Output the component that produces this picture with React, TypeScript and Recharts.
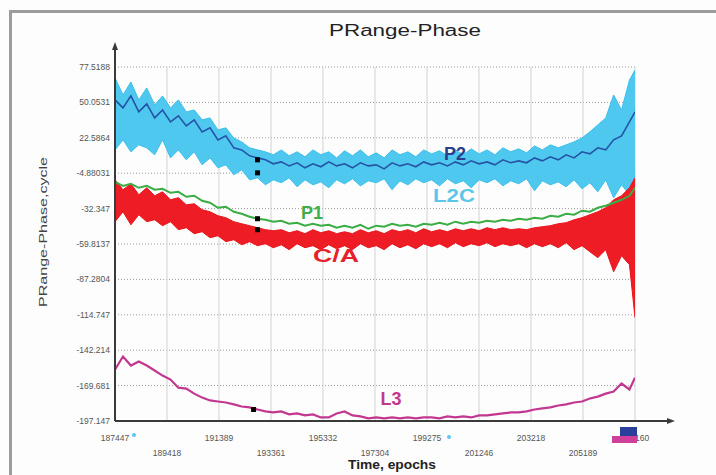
import { ComposedChart, Area, Line, Scatter, XAxis, YAxis, CartesianGrid } from "recharts";

// sample epochs (every 300 epochs + last one)
const epochs = [
  187450, 187750, 188050, 188350, 188650, 188950, 189250, 189550, 189850, 190150,
  190450, 190750, 191050, 191350, 191650, 191950, 192250, 192550, 192850, 193150,
  193450, 193750, 194050, 194350, 194650, 194950, 195250, 195550, 195850, 196150,
  196450, 196750, 197050, 197350, 197650, 197950, 198250, 198550, 198850, 199150,
  199450, 199750, 200050, 200350, 200650, 200950, 201250, 201550, 201850, 202150,
  202450, 202750, 203050, 203350, 203650, 203950, 204250, 204550, 204850, 205150,
  205450, 205750, 206050, 206350, 206650, 206950, 207160,
];

const p2 = [
  52.0, 45.8, 55.1, 42.7, 48.9, 38.0, 44.2, 34.9, 39.6, 31.8, 36.5, 27.2, 30.3, 21.0, 24.1, 14.8, 13.2, 8.6, 7.0, 5.5, 2.4,
  3.9, 0.8, 3.2, -0.7, 2.4, 0.1, 3.9, 0.8, 2.4, -0.7,
  3.2, 0.8, 1.6, -1.5, 3.2, 0.8, 2.4, 0.1, 3.9, 1.6,
  3.2, 0.8, 3.9, 1.6, 4.7, 2.4, 3.9, 1.6, 5.5, 3.2,
  4.7, 3.2, 7.0, 4.7, 7.8, 5.5, 9.4, 7.0, 11.7, 10.1,
  14.8, 13.2, 21.0, 24.1, 34.9, 42.7,
];

const l2cTop = [
  69.0, 55.8, 65.9, 52.0, 61.3, 48.1, 55.1, 45.8, 52.0, 42.7, 44.2, 36.5, 38.0, 28.7, 30.3, 22.5, 19.4, 14.8, 13.2, 11.7, 9.4,
  13.2, 8.6, 11.7, 7.8, 13.2, 9.4, 11.7, 7.0, 12.5, 8.6,
  13.2, 7.8, 10.9, 7.0, 13.2, 9.4, 11.7, 7.8, 13.2, 10.1,
  12.5, 8.6, 13.2, 9.4, 14.0, 10.1, 13.2, 9.4, 14.8, 11.7,
  14.0, 10.9, 16.3, 13.2, 17.1, 14.8, 17.1, 19.4, 22.5, 27.2,
  32.6, 38.0, 55.8, 44.2, 67.4, 75.2,
];

const l2cBottom = [
  13.2, 21.0, 11.7, 17.1, 14.8, 9.4, 21.0, 7.0, 13.2, 5.5, 11.7, 1.6, 7.0, -0.7, 1.6, -6.1, -2.3, -10.0, -8.5, -13.9, -10.0,
  -12.3, -8.5, -15.4, -10.0, -13.9, -11.6, -16.2, -10.0, -13.1, -9.2,
  -14.7, -10.8, -12.3, -9.2, -17.7, -10.8, -13.9, -9.2, -12.3, -10.0,
  -14.7, -9.2, -13.1, -10.8, -16.2, -10.0, -12.3, -9.2, -14.7, -10.8,
  -13.1, -9.2, -18.5, -10.8, -13.9, -11.6, -15.4, -10.0, -17.0, -12.3,
  -19.3, -10.0, -23.9, -13.9, -21.6, -6.1,
];

const p1 = [
  -11.6, -14.7, -13.1, -16.2, -14.7, -17.7, -17.0, -20.1, -19.3, -23.2, -22.4, -26.3, -27.8, -31.7, -30.9, -34.8, -36.3, -38.7, -40.2, -41.0, -42.5,
  -41.8, -44.1, -43.3, -45.6, -44.1, -45.6, -44.9, -47.2, -45.6, -47.2,
  -44.9, -48.0, -45.6, -46.4, -44.1, -45.6, -44.9, -46.4, -44.1, -44.9,
  -43.3, -44.9, -42.5, -44.1, -42.5, -43.3, -41.8, -42.5, -41.0, -41.8,
  -40.2, -41.0, -39.4, -40.2, -37.9, -38.7, -36.3, -37.1, -34.0, -34.8,
  -31.7, -30.1, -27.8, -25.5, -22.4, -16.2,
];

const caTop = [
  -10.0, -17.7, -13.1, -21.6, -16.2, -22.4, -19.3, -25.5, -23.9, -29.4, -28.6, -33.2, -34.8, -37.9, -39.4, -42.5, -44.1, -45.6, -47.2, -48.7, -49.5,
  -48.7, -51.1, -49.5, -51.8, -48.7, -51.1, -49.5, -51.8, -50.3, -51.8,
  -48.7, -51.1, -49.5, -51.8, -48.7, -50.3, -48.7, -51.1, -48.0, -50.3,
  -48.7, -50.3, -48.0, -49.5, -48.0, -49.5, -47.2, -48.7, -47.2, -48.7,
  -48.0, -48.7, -47.2, -46.4, -45.6, -44.1, -43.3, -41.0, -39.4, -37.1,
  -34.8, -31.7, -25.5, -22.4, -16.2, -8.5,
];

const caBottom = [
  -42.5, -34.8, -44.9, -37.1, -42.5, -41.0, -45.6, -42.5, -48.7, -47.2, -51.8, -50.3, -54.9, -53.4, -58.0, -56.5, -60.4, -58.0, -61.1, -59.6, -62.7,
  -60.4, -64.2, -59.6, -62.7, -61.1, -64.2, -60.4, -63.5, -61.1, -64.2,
  -59.6, -62.7, -61.1, -64.2, -59.6, -62.7, -60.4, -63.5, -59.6, -61.9,
  -59.6, -62.7, -58.8, -61.9, -59.6, -61.1, -58.8, -61.9, -59.6, -61.1,
  -59.6, -62.7, -59.6, -61.9, -59.6, -62.7, -58.8, -64.2, -61.1, -65.8,
  -70.4, -64.2, -81.3, -68.9, -75.9, -116.9,
];

const l3 = [
  -157.2, -147.1, -154.1, -151.0, -154.1, -158.0, -161.9, -165.0, -171.3, -172.0, -175.9, -179.0, -181.2, -182.0, -182.8, -184.3, -185.9, -186.6, -188.2, -189.7, -190.5,
  -189.7, -192.0, -191.3, -192.8, -192.0, -194.4, -194.4, -191.3, -189.7, -192.8,
  -193.6, -195.1, -194.4, -195.1, -194.4, -195.1, -194.4, -195.1, -194.4, -194.4,
  -195.1, -193.6, -194.4, -193.6, -194.4, -192.8, -192.8, -192.0, -191.3, -190.5,
  -190.5, -189.7, -188.2, -187.4, -186.6, -185.1, -184.3, -182.8, -182.0, -179.7,
  -178.2, -175.9, -174.3, -168.1, -172.7, -163.5,
];

// black cursor marks
const markerEpochs = [192850, 192850, 192850, 192850, 192700];
const markerValues = [5.5, -4.6, -40.2, -48.7, -188.2];

const xTicks = [187447, 189418, 191389, 193361, 195332, 197304, 199275, 201246, 203218, 205189, 207160];
const yTicks = [77.5188, 50.0521, 22.5855, -4.8812, -32.3478, -59.8145, -87.2811, -114.748, -142.214, -169.681, -197.147];
const yTickLabels = ["77.5188", "50.0531", "22.5864", "-4.88031", "-32.347", "-59.8137", "-87.2804", "-114.747", "-142.214", "-169.681", "-197.147"];

const rows = epochs.map((epoch, i) => ({
  epoch,
  p2: p2[i],
  l2c: [l2cBottom[i], l2cTop[i]],
  p1: p1[i],
  ca: [caBottom[i], caTop[i]],
  l3: l3[i],
}));

const markers = markerEpochs.map((epoch, i) => ({ epoch, value: markerValues[i] }));

const FONT = '"Liberation Sans", Arial, sans-serif';

function XTick({ x, y, payload }: any) {
  const idx = xTicks.indexOf(payload.value);
  const dy = idx % 2 === 0 ? 20 : 35;
  return (
    <text x={x} y={y + dy} textAnchor="middle" fontSize={8.5} fill="#555" fontFamily={FONT}>
      {payload.value}
    </text>
  );
}

function Square({ cx, cy }: any) {
  return <rect x={cx - 2.5} y={cy - 2.5} width={5} height={5} fill="#000" />;
}

export default function App() {
  return (
    <div style={{ position: "absolute", left: 0, top: 0, width: 716, height: 475, background: "#fdfdfd", overflow: "hidden", fontFamily: FONT }}>
      {/* outer frame */}
      <div style={{ position: "absolute", left: 9, top: 10, width: 740, height: 500, border: "3px solid #9c9c9c" }} />

      <div style={{ position: "absolute", left: 0, top: 0 }}>
        <ComposedChart width={716} height={475} data={rows} margin={{ top: 67, right: 81, bottom: 14, left: 55 }}>
          <CartesianGrid horizontal={true} vertical={false} stroke="#9a9a9a" strokeDasharray="1 2" />
          <CartesianGrid horizontal={false} vertical={true} stroke="#d2d2d2" />
          <XAxis
            dataKey="epoch"
            type="number"
            domain={[187447, 207160]}
            ticks={xTicks}
            interval={0}
            tick={<XTick />}
            tickLine={false}
            axisLine={false}
            tickSize={0}
            tickMargin={0}
            height={40}
            allowDataOverflow
          />
          <YAxis
            type="number"
            domain={[-197.147, 77.5188]}
            ticks={yTicks}
            interval={0}
            tickFormatter={(v: number) => yTickLabels[yTicks.indexOf(v)] ?? String(v)}
            tick={{ fontSize: 8.5, fill: "#555", fontFamily: FONT }}
            tickLine={false}
            axisLine={false}
            tickSize={0}
            tickMargin={5}
            width={60}
            allowDataOverflow
          />
          <Area type="linear" dataKey="l2c" stroke="#3cbfea" strokeWidth={1} fill="#4fc8ef" fillOpacity={1} isAnimationActive={false} />
          <Line type="linear" dataKey="p2" stroke="#2553a6" strokeWidth={1.6} dot={false} isAnimationActive={false} />
          <Area type="linear" dataKey="ca" stroke="#e8141c" strokeWidth={1} fill="#ee1c24" fillOpacity={1} isAnimationActive={false} />
          <Line type="linear" dataKey="p1" stroke="#3aad45" strokeWidth={2} dot={false} isAnimationActive={false} />
          <Line type="linear" dataKey="l3" stroke="#c2378f" strokeWidth={2.2} dot={false} isAnimationActive={false} />
          <Scatter data={markers} dataKey="value" shape={<Square />} isAnimationActive={false} />
        </ComposedChart>
      </div>

      {/* axes, titles, series labels */}
      <svg width={716} height={475} style={{ position: "absolute", left: 0, top: 0, pointerEvents: "none" }}>
        <line x1={115} y1={421} x2={115} y2={48} stroke="#3a3a3a" strokeWidth={2} />
        <polygon points="115,42 112,50 118,50" fill="#3a3a3a" />
        <line x1={115} y1={421} x2={668} y2={421} stroke="#3a3a3a" strokeWidth={2} />
        <polygon points="675,421 667,418 667,424" fill="#3a3a3a" />

        <text x={405} y={36} textAnchor="middle" fontSize={16} fill="#222" fontFamily={FONT} textLength={152} lengthAdjust="spacingAndGlyphs">
          PRange-Phase
        </text>
        <text x={392} y={469} textAnchor="middle" fontSize={12} fill="#222" fontWeight={600} fontFamily={FONT} textLength={88} lengthAdjust="spacingAndGlyphs">
          Time, epochs
        </text>
        <text transform="translate(47,232) rotate(-90)" textAnchor="middle" fontSize={11} fill="#444" fontFamily={FONT} textLength={150} lengthAdjust="spacingAndGlyphs">
          PRange-Phase,cycle
        </text>

        <text x={455} y={160} textAnchor="middle" fontSize={18} fontWeight="bold" fill="#2b3f8c" fontFamily={FONT}>P2</text>
        <text x={454} y={202} textAnchor="middle" fontSize={18} fontWeight="bold" fill="#5cc6ea" fontFamily={FONT} textLength={42} lengthAdjust="spacingAndGlyphs">L2C</text>
        <text x={312} y={219} textAnchor="middle" fontSize={18} fontWeight="bold" fill="#3fae49" fontFamily={FONT}>P1</text>
        <text x={336} y={262} textAnchor="middle" fontSize={18} fontWeight="bold" fill="#e8202a" fontFamily={FONT} textLength={46} lengthAdjust="spacingAndGlyphs">C/A</text>
        <text x={391} y={405} textAnchor="middle" fontSize={18} fontWeight="bold" fill="#c0398f" fontFamily={FONT}>L3</text>

        <circle cx={134} cy={435} r={2} fill="#5bc8f0" />
        <circle cx={449} cy={437} r={2} fill="#5bc8f0" />
        <rect x={620} y={427} width={17} height={9} fill="#2a3f9a" />
        <rect x={612} y={436} width={25} height={7} fill="#d0409a" />
      </svg>
    </div>
  );
}
